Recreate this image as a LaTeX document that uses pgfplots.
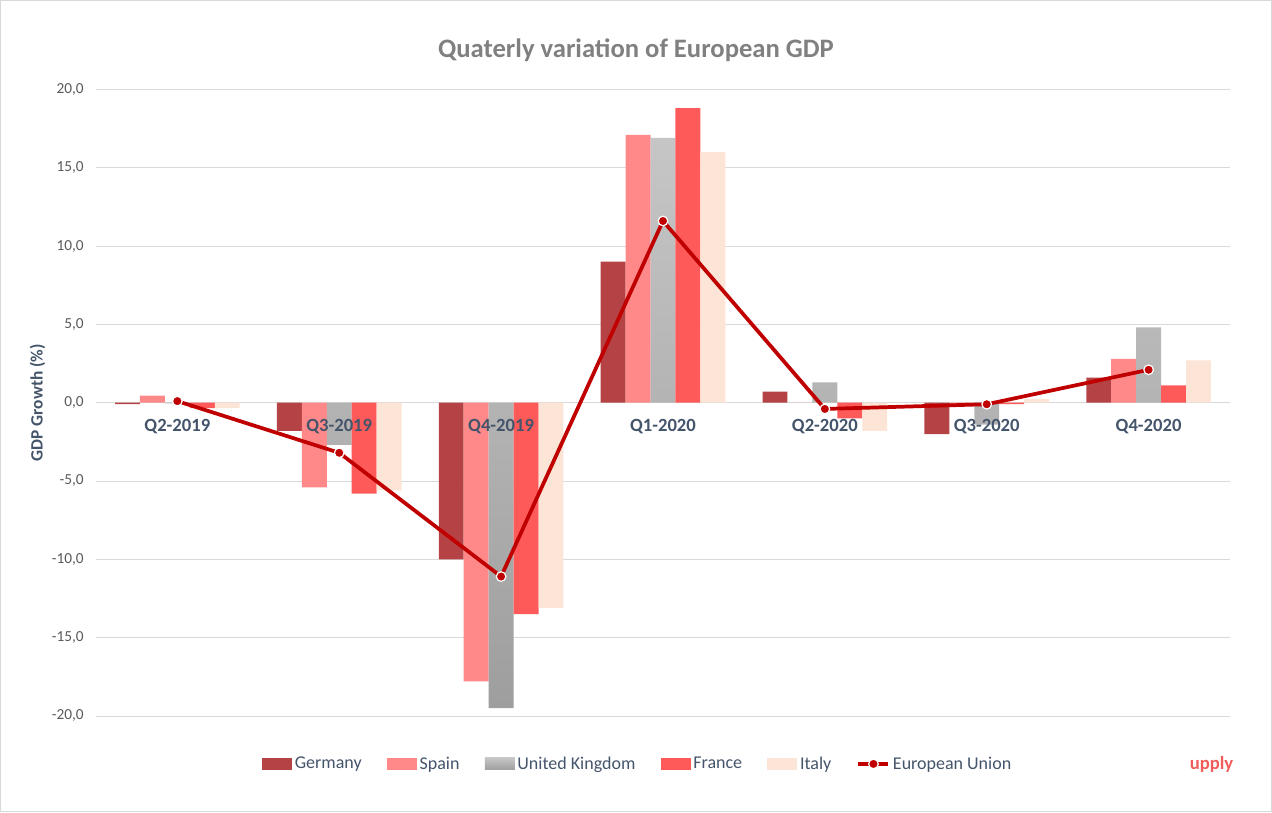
\documentclass[border=0pt]{standalone}
\usepackage{pgfplots}
\pgfplotsset{compat=1.18}
\usepackage{pgfplotstable}
\usepackage{fontspec}
\setmainfont{Carlito}
\definecolor{cGer}{RGB}{181,66,68}
\definecolor{cSpa}{RGB}{255,137,136}
\definecolor{cUKt}{RGB}{198,198,198}
\definecolor{cUKb}{RGB}{158,158,158}
\definecolor{cFra}{RGB}{255,90,90}
\definecolor{cIta}{RGB}{252,228,214}
\definecolor{cEU}{RGB}{192,0,0}
\definecolor{cTitle}{RGB}{128,128,128}
\definecolor{cTick}{RGB}{89,89,89}
\definecolor{cCat}{RGB}{68,84,106}
\definecolor{cGrid}{RGB}{217,217,217}
\definecolor{cLogo}{RGB}{240,92,90}

\pgfplotstableread{
x Germany Spain UK France Italy EU
0 -0.1 0.45 -0.05 -0.35 -0.35 0.1
1 -1.8 -5.4 -2.7 -5.8 -5.6 -3.2
2 -10.0 -17.8 -19.5 -13.5 -13.1 -11.1
3 9.0 17.1 16.9 18.8 16.0 11.6
4 0.7 0.0 1.3 -1.0 -1.8 -0.4
5 -2.0 -0.2 -1.4 -0.1 0.25 -0.1
6 1.6 2.8 4.8 1.1 2.7 2.1
}\gdp

\pgfplotsset{
  barleg/.style={legend image code/.code={\path[##1] (0pt,-4.5pt) rectangle (22.5pt,4.5pt);}},
  lineleg/.style={legend image code/.code={\draw[##1, sharp plot, mark repeat=2, mark phase=2] plot coordinates {(0pt,0pt) (11.25pt,0pt) (22.5pt,0pt)};}},
  layers/labelsontop/.define layer set={axis background,axis grid,axis ticks,axis lines,main,axis tick labels,axis descriptions,axis foreground}{
    grid style={/pgfplots/on layer=axis grid},
    tick style={/pgfplots/on layer=axis ticks},
    axis line style={/pgfplots/on layer=axis lines},
    label style={/pgfplots/on layer=axis descriptions},
    legend style={/pgfplots/on layer=axis descriptions},
    title style={/pgfplots/on layer=axis descriptions},
    ticklabel style={/pgfplots/on layer=axis tick labels},
    axis background@ style={/pgfplots/on layer=axis background},
  },
}

\begin{document}
\begin{tikzpicture}
\draw[cGrid, line width=0.75pt] (0,0) rectangle (954pt,609pt);
\node[font=\bfseries\fontsize{20}{24}\selectfont, text=cTitle] at (477pt,571.5pt) {Quaterly variation of European GDP};
\node[font=\bfseries\fontsize{14}{16}\selectfont, text=cLogo] at (909pt,35.25pt) {upply};
\begin{axis}[
  set layers=labelsontop,
  at={(72pt,72pt)}, anchor=south west,
  scale only axis, width=850.5pt, height=470.25pt,
  ybar=0pt, bar width=0.154,
  xmin=-0.5, xmax=6.5, ymin=-20, ymax=20,
  xtick={0,...,6},
  xticklabels={Q2-2019,Q3-2019,Q4-2019,Q1-2020,Q2-2020,Q3-2020,Q4-2020},
  ytick={-20,-15,...,20},
  ymajorgrids, major grid style={draw=cGrid, line width=0.6pt},
  axis line style={draw=none}, tick style={draw=none}, major tick length=0pt,
  /pgf/number format/assume math mode=true,
  yticklabel={\pgfmathprintnumber[fixed, fixed zerofill, precision=1, use comma]{\tick}},
  yticklabel style={font=\fontsize{11.5}{13}\selectfont, text=cTick, anchor=east, xshift=-6pt},
  xticklabel style={font=\bfseries\fontsize{14}{16}\selectfont, text=cCat, anchor=center, yshift=217.5pt},
  ylabel={GDP Growth (\%)},
  ylabel style={font=\bfseries\fontsize{13}{15}\selectfont, text=cCat, at={(axis description cs:-0.052,0.5)}, anchor=center},
  legend columns=6,
  legend style={at={(axis description cs:0.478,-0.0766)}, anchor=center, draw=none, fill=none,
    font=\fontsize{13.5}{15}\selectfont, text=cCat,
    /tikz/every even column/.append style={column sep=17pt}},
  barleg,
  clip=false,
]
\addplot[fill=cGer, draw=none, bar shift=-0.308] table[x=x,y=Germany]{\gdp};
\addlegendentry{Germany}
\addplot[fill=cSpa, draw=none, bar shift=-0.154] table[x=x,y=Spain]{\gdp};
\addlegendentry{Spain}
\addplot[top color=cUKt, bottom color=cUKb, draw=none, bar shift=0] table[x=x,y=UK]{\gdp};
\addlegendentry{United Kingdom}
\addplot[fill=cFra, draw=none, bar shift=0.154] table[x=x,y=France]{\gdp};
\addlegendentry{France}
\addplot[fill=cIta, draw=none, bar shift=0.308] table[x=x,y=Italy]{\gdp};
\addlegendentry{Italy}
\addplot[sharp plot, draw=cEU, line width=2.8pt, mark=*, mark size=3.6pt,
  mark options={fill=cEU, draw=white, line width=0.9pt}, lineleg] table[x=x,y=EU]{\gdp};
\addlegendentry{European Union}
\end{axis}
\end{tikzpicture}
\end{document}
